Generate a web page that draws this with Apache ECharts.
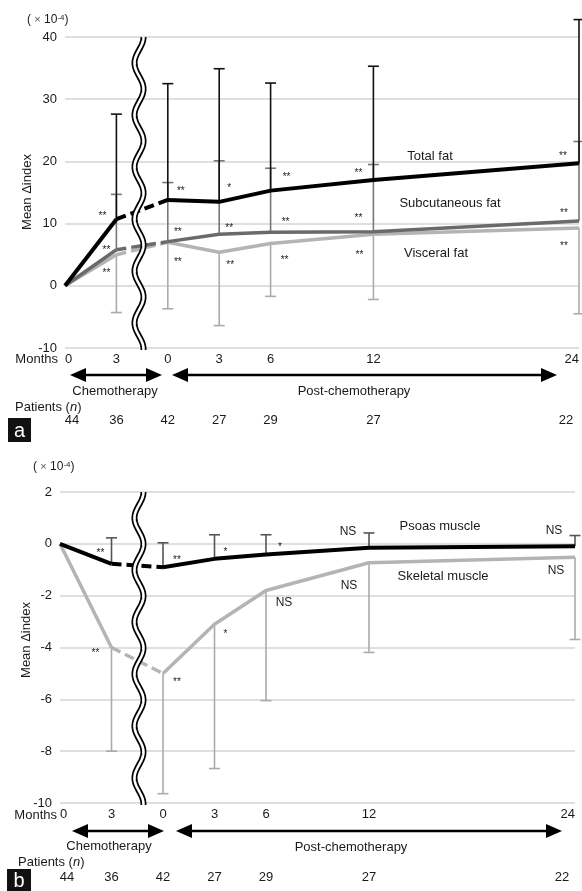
<!DOCTYPE html>
<html>
<head>
<meta charset="utf-8">
<script src="https://cdn.jsdelivr.net/npm/echarts@6/dist/echarts.min.js"></script>
<style>
    html, body { margin: 0; padding: 0; background: #fff; }
    #chart { width: 582px; height: 891px; }
</style>
</head>
<body>
<div id="chart"></div>
<script>
    // time points: two during chemotherapy, five after it
    const chemoMonths = [0, 3];
    const postMonths = [0, 3, 6, 12, 24];
    const monthLabels = ['0', '3', '0', '3', '6', '12', '24'];
    const patients = [44, 36, 42, 27, 29, 27, 22];

    // panel a, mean delta index (x10^-4)
    const totalFat = [0, 10.7, 13.8, 13.5, 15.3, 17.0, 19.7];
    const totalFatUpper = [null, 27.6, 32.5, 34.9, 32.6, 35.3, 42.8];
    const subqFat = [0, 5.8, 7.1, 8.3, 8.6, 8.7, 10.4];
    const subqFatUpper = [null, 14.7, 16.6, 20.1, 18.9, 19.5, 23.2];
    const visceralFat = [0, 5.0, 7.0, 5.4, 6.8, 8.3, 9.3];
    const visceralFatLower = [null, -4.3, -3.7, -6.4, -1.7, -2.2, -4.5];
    const totalFatSig = ['', '**', '**', '*', '**', '**', '**'];
    const subqFatSig = ['', '**', '**', '**', '**', '**', '**'];
    const visceralFatSig = ['', '**', '**', '**', '**', '**', '**'];

    // panel b
    const psoas = [0, -0.77, -0.9, -0.58, -0.41, -0.15, -0.09];
    const psoasUpper = [null, 0.23, 0.04, 0.35, 0.35, 0.42, 0.32];
    const skeletal = [0, -4.0, -5.0, -3.1, -1.8, -0.73, -0.52];
    const skeletalLower = [null, -8.0, -9.64, -8.67, -6.05, -4.19, -3.69];
    const psoasSig = ['', '**', '**', '*', '*', 'NS', 'NS'];
    const skeletalSig = ['', '**', '**', '*', 'NS', 'NS', 'NS'];

    // post-chemo months are drawn 6 units to the right of the start
    const xPos = chemoMonths.concat(postMonths.map(m => m + 6));

    const FONT = '"Liberation Sans", Arial, sans-serif';
    const TXT = '#1a1a1a';

    function monthFmt(v) {
        const i = xPos.indexOf(v);
        return i < 0 ? '' : monthLabels[i];
    }

    function lineParts(g, vals, color, width) {
        const pts = xPos.map((x, i) => [x, vals[i]]);
        const base = {
            type: 'line', xAxisIndex: g, yAxisIndex: g, symbol: 'none', silent: true, z: 5,
            animation: false
        };
        return [
            Object.assign({}, base, { data: pts.slice(0, 2), lineStyle: { color: color, width: width } }),
            Object.assign({}, base, { data: pts.slice(1, 3), lineStyle: { color: color, width: width, type: [10, 5] } }),
            Object.assign({}, base, { data: pts.slice(2), lineStyle: { color: color, width: width } })
        ];
    }

    function errorBars(g, means, ends, color) {
        return {
            type: 'custom', xAxisIndex: g, yAxisIndex: g, z: 3, silent: true, animation: false,
            data: xPos.map((x, i) => [x, means[i], ends[i]]).filter(d => d[2] != null),
            renderItem: function (params, api) {
                const p0 = api.coord([api.value(0), api.value(1)]);
                const p1 = api.coord([api.value(0), api.value(2)]);
                return {
                    type: 'group', children: [
                        { type: 'line', shape: { x1: p0[0], y1: p0[1], x2: p1[0], y2: p1[1] }, style: { stroke: color, lineWidth: 1.6 } },
                        { type: 'line', shape: { x1: p1[0] - 5.5, y1: p1[1], x2: p1[0] + 5.5, y2: p1[1] }, style: { stroke: color, lineWidth: 1.6 } }
                    ]
                };
            }
        };
    }

    function sigLabels(g, vals, sig, offs) {
        return {
            type: 'custom', xAxisIndex: g, yAxisIndex: g, z: 6, silent: true, animation: false,
            data: xPos.map((x, i) => [x, vals[i], i]).filter(d => sig[d[2]]),
            renderItem: function (params, api) {
                const i = api.value(2);
                const p = api.coord([api.value(0), api.value(1)]);
                const star = sig[i].indexOf('*') >= 0;
                return {
                    type: 'text',
                    x: p[0] + offs[i][0],
                    y: p[1] + offs[i][1] + (star ? 3 : 0),
                    style: {
                        text: sig[i], fill: TXT, align: 'center', verticalAlign: 'middle',
                        font: (star ? '10px ' : '12px ') + FONT
                    }
                };
            }
        };
    }

    // label offsets from each point, in pixels
    const totalOffs = [null, [-14, -6], [13, -12], [10, -17], [16, -16], [-15, -10], [-16, -10]];
    const subqOffs = [null, [-10, -2], [10, -12], [10, -9], [15, -13], [-15, -16], [-15, -11]];
    const viscOffs = [null, [-10, 16], [10, 17], [11, 10], [14, 14], [-14, 18], [-15, 15]];
    const psoasOffs = [null, [-11, -14], [14, -10], [11, -10], [14, -10], [-21, -16], [-21, -15]];
    const skelOffs = [null, [-16, 3], [14, 6], [11, 7], [18, 12], [-20, 23], [-19, 13]];

    const xAxisBase = {
        type: 'value', min: 0, max: 30, position: 'bottom',
        axisLine: { show: false }, axisTick: { show: false }, splitLine: { show: false },
        axisLabel: {
            customValues: xPos, formatter: monthFmt, margin: 5,
            color: TXT, fontSize: 13, fontFamily: FONT,
            alignMinLabel: 'left', alignMaxLabel: 'right'
        }
    };
    const yAxisBase = {
        type: 'value', axisLine: { show: false }, axisTick: { show: false },
        axisLabel: { color: TXT, fontSize: 13, fontFamily: FONT, margin: 8 },
        splitLine: { lineStyle: { color: '#d4d4d4', width: 1.5 } }
    };

    const chart = echarts.init(document.getElementById('chart'));
    chart.setOption({
        animation: false,
        grid: [
            { left: 65, right: 3, top: 37, height: 311 },
            { left: 60, right: 7, top: 492, height: 311 }
        ],
        xAxis: [
            Object.assign({ gridIndex: 0 }, xAxisBase),
            Object.assign({ gridIndex: 1 }, xAxisBase)
        ],
        yAxis: [
            Object.assign({ gridIndex: 0, min: -10, max: 40, interval: 10 }, yAxisBase),
            Object.assign({ gridIndex: 1, min: -10, max: 2, interval: 2 }, yAxisBase)
        ],
        series: [].concat(
            errorBars(0, visceralFat, visceralFatLower, '#ababab'),
            errorBars(0, subqFat, subqFatUpper, '#777777'),
            errorBars(0, totalFat, totalFatUpper, '#111111'),
            lineParts(0, visceralFat, '#b4b4b4', 3.5),
            lineParts(0, subqFat, '#6a6a6a', 3.5),
            lineParts(0, totalFat, '#000000', 4),
            sigLabels(0, totalFat, totalFatSig, totalOffs),
            sigLabels(0, subqFat, subqFatSig, subqOffs),
            sigLabels(0, visceralFat, visceralFatSig, viscOffs),
            errorBars(1, skeletal, skeletalLower, '#ababab'),
            errorBars(1, psoas, psoasUpper, '#555555'),
            lineParts(1, skeletal, '#b4b4b4', 3.5),
            lineParts(1, psoas, '#000000', 4),
            sigLabels(1, psoas, psoasSig, psoasOffs),
            sigLabels(1, skeletal, skeletalSig, skelOffs)
        )
    });

    // decorations: axis break, arrows, texts
    function wave(g, xVal) {
        const top = chart.convertToPixel({ gridIndex: g }, [xVal, g === 0 ? 40 : 2]);
        const bot = chart.convertToPixel({ gridIndex: g }, [xVal, -10]);
        const pts = [];
        for (let y = top[1]; y <= bot[1] + 2; y += 1) {
            pts.push([top[0] + 4.5 * Math.cos(2 * Math.PI * (y - top[1]) / 52), y]);
        }
        return [
            { type: 'polyline', z: 20, shape: { points: pts }, style: { stroke: '#000', lineWidth: 6, fill: null } },
            { type: 'polyline', z: 21, shape: { points: pts }, style: { stroke: '#fff', lineWidth: 2.6, fill: null } }
        ];
    }

    function arrow(x1, x2, y) {
        const L = 16, H = 7;
        return [
            { type: 'line', shape: { x1: x1 + 4, y1: y, x2: x2 - 4, y2: y }, style: { stroke: '#000', lineWidth: 2.5 } },
            { type: 'polygon', shape: { points: [[x1, y], [x1 + L, y - H], [x1 + L, y + H]] }, style: { fill: '#000' } },
            { type: 'polygon', shape: { points: [[x2, y], [x2 - L, y - H], [x2 - L, y + H]] }, style: { fill: '#000' } }
        ];
    }

    function text(x, y, str, opts, rotation) {
        return {
            type: 'text', x: x, y: y, z: 30, rotation: rotation || 0,
            style: Object.assign({
                text: str, fill: TXT, font: '13px ' + FONT, align: 'center', verticalAlign: 'middle'
            }, opts || {})
        };
    }

    function unitText(x, y) {
        return {
            type: 'text', x: x, y: y, z: 30,
            style: {
                text: '( {x|×} 10{s|-4})', fill: TXT, font: '12px ' + FONT, align: 'left', verticalAlign: 'middle',
                rich: {
                    x: { fontSize: 11, fontFamily: FONT, fill: '#555' },
                    s: { fontSize: 8, fontFamily: FONT, verticalAlign: 'top', padding: [0, 0, 5, 0], fill: TXT }
                }
            }
        };
    }

    function patientRow(g, y) {
        return patients.map((n, i) => {
            const p = chart.convertToPixel({ gridIndex: g }, [xPos[i], 0]);
            let x = p[0];
            if (i === 0) x += 7;
            if (i === patients.length - 1) x -= 13;
            return text(x, y, String(n));
        });
    }

    function panelTag(x, y, w, h, letter) {
        return [
            { type: 'rect', z: 30, shape: { x: x, y: y, width: w, height: h }, style: { fill: '#111' } },
            text(x + w / 2, y + h / 2 + 1, letter, { fill: '#fff', font: '20px ' + FONT })
        ];
    }

    const rot = Math.PI / 2;
    const italicN = { i: { fontStyle: 'italic', fontSize: 13, fontFamily: FONT } };
    const graphic = [].concat(
        wave(0, 4.32), wave(1, 4.6),
        arrow(70, 162, 375), arrow(172, 557, 375),
        arrow(72, 164, 831), arrow(176, 562, 831),
        [
            unitText(27, 20), unitText(33, 467),
            text(27, 192, 'Mean Δindex', null, rot),
            text(26, 640, 'Mean Δindex', null, rot),
            text(58, 359, 'Months', { align: 'right' }),
            text(57, 815, 'Months', { align: 'right' }),
            text(115, 391, 'Chemotherapy'), text(354, 391, 'Post-chemotherapy'),
            text(109, 846, 'Chemotherapy'), text(351, 847, 'Post-chemotherapy'),
            text(15, 407, 'Patients ({i|n})', { align: 'left', rich: italicN }),
            text(18, 862, 'Patients ({i|n})', { align: 'left', rich: italicN }),
            text(430, 156, 'Total fat'), text(450, 203, 'Subcutaneous fat'), text(436, 253, 'Visceral fat'),
            text(440, 526, 'Psoas muscle'), text(443, 576, 'Skeletal muscle')
        ],
        patientRow(0, 420), patientRow(1, 877),
        panelTag(8, 418, 23, 24, 'a'), panelTag(7, 869, 24, 22, 'b')
    );
    chart.setOption({ graphic: graphic });
</script>
</body>
</html>
